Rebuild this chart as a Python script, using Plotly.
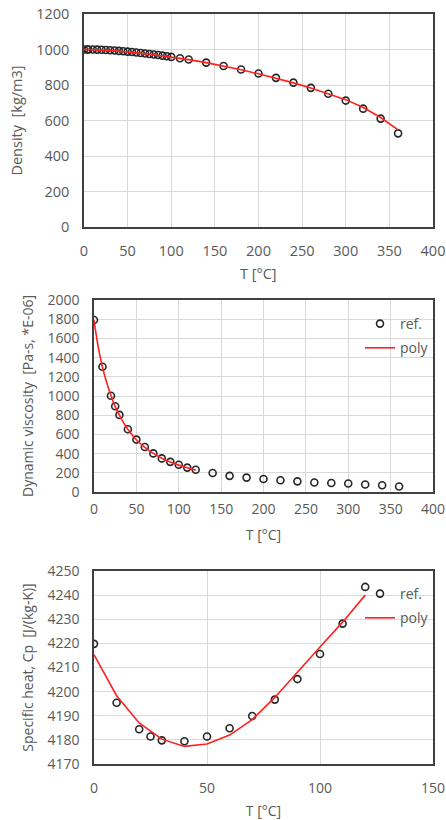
import plotly.graph_objects as go

# ---- Data ----
T_rho = [0, 4, 5, 10, 15, 20, 25, 30, 35, 40, 45, 50, 55, 60, 65, 70, 75, 80, 85, 90, 95, 100,
         110, 120, 140, 160, 180, 200, 220, 240, 260, 280, 300, 320, 340, 360]
rho_ref = [999.8, 1000.0, 999.9, 999.7, 999.1, 998.2, 997.0, 995.6, 994.0, 992.2, 990.2, 988.0,
           985.7, 983.2, 980.5, 977.7, 974.8, 971.8, 968.6, 965.3, 961.9, 958.4,
           950.6, 943.4, 926.1, 907.4, 887.0, 864.7, 840.2, 813.6, 783.9, 750.5, 712.2, 666.9, 610.7, 527.6]
rho_poly = [1000.5, 1000.3, 1000.2, 999.5, 998.6, 997.5, 996.2, 994.7, 993.0, 991.1, 989.1, 986.9,
            984.6, 982.1, 979.5, 976.8, 973.9, 970.9, 967.8, 964.6, 961.3, 957.9,
            950.7, 943.0, 926.0, 907.0, 886.0, 863.0, 838.5, 812.0, 783.5, 752.5, 717.5, 673.0, 617.0, 547.0]

T_mu = [0, 10, 20, 25, 30, 40, 50, 60, 70, 80, 90, 100, 110, 120, 140, 160, 180, 200, 220, 240,
        260, 280, 300, 320, 340, 360]
mu_ref = [1792, 1304, 1002, 894, 803, 654, 546, 468, 402, 350, 314, 284, 254, 231, 198, 168,
          150, 136, 122, 111, 99, 94, 88, 78, 70, 57]
T_mu_poly = [0, 5, 10, 15, 20, 25, 30, 35, 40, 50, 60, 70, 80, 90, 100, 110, 120]
mu_poly = [1790, 1510, 1300, 1140, 1005, 890, 800, 720, 652, 545, 465, 402, 352, 312, 280, 252, 228]

T_cp = [0, 10, 20, 25, 30, 40, 50, 60, 70, 80, 90, 100, 110, 120]
cp_ref = [4219.8, 4195.4, 4184.4, 4181.4, 4179.8, 4179.4, 4181.4, 4184.8, 4189.9, 4196.7,
          4205.2, 4215.6, 4228.2, 4243.4]
T_cp_poly = [0, 10, 20, 30, 40, 50, 60, 70, 80, 90, 100, 110, 120]
cp_poly = [4215.3, 4198.3, 4187.0, 4180.3, 4177.3, 4178.3, 4182.0, 4188.4, 4197.6, 4208.2,
           4218.5, 4228.8, 4240.0]

W, H = 446, 820
TXT = "#595959"
GRID = "#d9d9d9"
FONT = "Open Sans, Liberation Sans, sans-serif"
FS = 14
marker = dict(symbol="circle-open", size=7, color="#262626", line=dict(width=1.6, color="#262626"))
red = dict(color="#ff2020", width=1.6)

fig = go.Figure()
fig.add_trace(go.Scatter(x=T_rho, y=rho_ref, mode="markers", marker=marker, name="ref.",
                         xaxis="x", yaxis="y", showlegend=False))
fig.add_trace(go.Scatter(x=T_rho, y=rho_poly, mode="lines", line=red, name="poly",
                         xaxis="x", yaxis="y", showlegend=False))

fig.add_trace(go.Scatter(x=T_mu, y=mu_ref, mode="markers", marker=marker, name="ref.",
                         xaxis="x2", yaxis="y2", legend="legend2", legendgroup="a"))
fig.add_trace(go.Scatter(x=T_mu_poly, y=mu_poly, mode="lines", line=dict(red, shape="spline"),
                         name="poly", xaxis="x2", yaxis="y2", legend="legend2", legendgroup="b"))

fig.add_trace(go.Scatter(x=T_cp, y=cp_ref, mode="markers", marker=marker, name="ref.",
                         xaxis="x3", yaxis="y3", legend="legend3", legendgroup="c"))
fig.add_trace(go.Scatter(x=T_cp_poly, y=cp_poly, mode="lines", line=red, name="poly",
                         xaxis="x3", yaxis="y3", legend="legend3", legendgroup="d"))


def px(v):
    return v / W


def py(v):
    return 1 - v / H


def ax(anchor, rng, dtick, title, standoff, fs=FS, lblgap=10):
    return dict(range=rng, dtick=dtick, showgrid=True, gridcolor=GRID, gridwidth=1,
                showline=True, linecolor="#404040", linewidth=1.5, mirror=True, zeroline=False,
                ticks="", tickfont=dict(size=fs, color=TXT, family=FONT), ticklabelstandoff=lblgap,
                title=dict(text=title, font=dict(size=fs, color=TXT, family=FONT), standoff=standoff),
                anchor=anchor, automargin=False)


fig.update_layout(
    width=W, height=H, margin=dict(l=0, r=0, t=0, b=0, autoexpand=False),
    paper_bgcolor="white", plot_bgcolor="white",
    font=dict(family=FONT, color=TXT),
    xaxis=dict(ax("y", [0, 400], 50, "", 0, 14.5), domain=[px(84), px(433)]),
    yaxis=dict(ax("x", [0, 1200], 200, "Density  [kg/m3]", 10, 14.5), domain=[py(227), py(14)]),
    xaxis2=dict(ax("y2", [0, 400], 50, "T [°C]", 14, lblgap=3), domain=[px(94), px(433)]),
    yaxis2=dict(ax("x2", [0, 2000], 200, "Dynamic viscosity  [Pa-s, *E-06]", 11),
                domain=[py(492), py(300)]),
    xaxis3=dict(ax("y3", [0, 150], 50, "T [°C]", 11), domain=[px(94), px(433)]),
    yaxis3=dict(ax("x3", [4170, 4250], 10, "Specific heat, Cp  [J/(kg-K)]", 11),
                domain=[py(764), py(571)]),
    legend2=dict(x=px(360), y=py(308), xanchor="left", yanchor="top", bgcolor="rgba(0,0,0,0)",
                 font=dict(size=FS, color=TXT, family=FONT), tracegroupgap=3, traceorder="grouped"),
    legend3=dict(x=px(360), y=py(578), xanchor="left", yanchor="top", bgcolor="rgba(0,0,0,0)",
                 font=dict(size=FS, color=TXT, family=FONT), tracegroupgap=3, traceorder="grouped"),
    annotations=[dict(text="T [°C]", xref="paper", yref="paper", x=px(258.5), y=py(273),
                      xanchor="center", yanchor="middle", showarrow=False,
                      font=dict(size=14.5, color=TXT, family=FONT))],
)

fig.write_html("out.html", config={"displayModeBar": False},
               post_script="document.body.style.margin='0';document.body.style.overflow='hidden';")
